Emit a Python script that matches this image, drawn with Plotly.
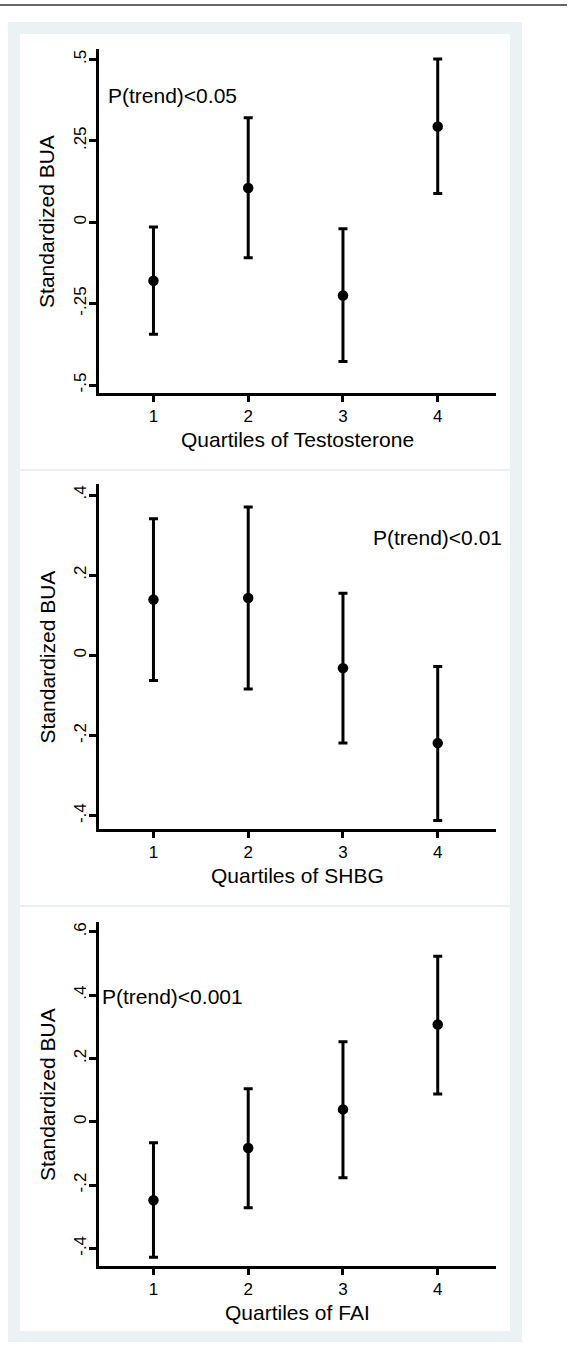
import plotly.graph_objects as go

W, H = 571, 1347

quartiles = [1, 2, 3, 4]
x_tick_labels = ["1", "2", "3", "4"]

# Panel 1: Testosterone
t_mean = [-0.180, 0.105, -0.225, 0.294]
t_low = [-0.344, -0.109, -0.428, 0.088]
t_high = [-0.015, 0.321, -0.020, 0.501]
t_ticks = [-0.5, -0.25, 0, 0.25, 0.5]
t_ticktext = ["-.5", "-.25", "0", ".25", ".5"]

# Panel 2: SHBG
s_mean = [0.139, 0.143, -0.032, -0.219]
s_low = [-0.063, -0.084, -0.219, -0.412]
s_high = [0.341, 0.370, 0.155, -0.028]
s_ticks = [-0.4, -0.2, 0, 0.2, 0.4]
s_ticktext = ["-.4", "-.2", "0", ".2", ".4"]

# Panel 3: FAI
f_mean = [-0.248, -0.083, 0.039, 0.307]
f_low = [-0.428, -0.272, -0.177, 0.088]
f_high = [-0.066, 0.104, 0.253, 0.523]
f_ticks = [-0.4, -0.2, 0, 0.2, 0.4, 0.6]
f_ticktext = ["-.4", "-.2", "0", ".2", ".4", ".6"]

x_titles = ["Quartiles of Testosterone", "Quartiles of SHBG", "Quartiles of FAI"]
y_title = "Standardized BUA"
p_texts = ["P(trend)<0.05", "P(trend)<0.01", "P(trend)<0.001"]

FONT = "Liberation Sans, Arial, sans-serif"


def px(x):
    return x / W


def py(y):
    return 1 - y / H


panels = [
    dict(mean=t_mean, low=t_low, high=t_high, ticks=t_ticks, ticktext=t_ticktext,
         yrange=[-0.523, 0.531], top=49.3, bottom=392.5,
         ann=dict(x=0.50, y=0.39, xanchor="left")),
    dict(mean=s_mean, low=s_low, high=s_high, ticks=s_ticks, ticktext=s_ticktext,
         yrange=[-0.432, 0.4267], top=484.3, bottom=828.5,
         ann=dict(x=4.0, y=0.295, xanchor="center")),
    dict(mean=f_mean, low=f_low, high=f_high, ticks=f_ticks, ticktext=f_ticktext,
         yrange=[-0.455, 0.630], top=922.3, bottom=1265.8,
         ann=dict(x=0.44, y=0.396, xanchor="left")),
]

X_LEFT, X_RIGHT = 98.5, 496
XRANGE = [0.42, 4.615]

fig = go.Figure()
layout = dict(
    width=W, height=H,
    margin=dict(l=0, r=0, t=0, b=0),
    paper_bgcolor="white",
    plot_bgcolor="rgba(0,0,0,0)",
    showlegend=False,
    font=dict(family=FONT, color="black"),
)

shapes = [
    # page line at top
    dict(type="line", xref="paper", yref="paper", x0=0, x1=px(567), y0=py(5), y1=py(5),
         line=dict(color="#333333", width=1.5), layer="below"),
    # outer graph region
    dict(type="rect", xref="paper", yref="paper", x0=px(8), x1=px(522), y0=py(1342), y1=py(22),
         fillcolor="#eaf2f3", line=dict(width=0), layer="below"),
    # inner white region
    dict(type="rect", xref="paper", yref="paper", x0=px(20), x1=px(510), y0=py(1331), y1=py(34),
         fillcolor="white", line=dict(width=0), layer="below"),
]
for sep in (470, 906):
    shapes.append(dict(type="line", xref="paper", yref="paper", x0=px(20), x1=px(510),
                       y0=py(sep), y1=py(sep), line=dict(color="#e3ebed", width=1.5), layer="below"))

annotations = []
for i, p in enumerate(panels):
    n = "" if i == 0 else str(i + 1)
    xa, ya = "x" + n, "y" + n
    err_plus = [h - m for h, m in zip(p["high"], p["mean"])]
    err_minus = [m - l for m, l in zip(p["mean"], p["low"])]
    fig.add_trace(go.Scatter(
        x=quartiles, y=p["mean"], mode="markers", xaxis=xa, yaxis=ya,
        marker=dict(color="black", size=10.5, symbol="circle"),
        error_y=dict(type="data", symmetric=False, array=err_plus, arrayminus=err_minus,
                     color="black", thickness=3, width=4.5),
        cliponaxis=False, hoverinfo="skip",
    ))
    layout["xaxis" + n] = dict(
        domain=[px(X_LEFT), px(X_RIGHT)], range=XRANGE, anchor=ya,
        tickvals=quartiles, ticktext=x_tick_labels,
        showline=True, linecolor="black", linewidth=3,
        ticks="outside", ticklen=6, tickwidth=2.5, tickcolor="black",
        showgrid=False, zeroline=False, fixedrange=True,
        tickfont=dict(size=17, family=FONT, color="black"),
    )
    layout["yaxis" + n] = dict(
        domain=[py(p["bottom"]), py(p["top"])], range=p["yrange"], anchor=xa,
        tickvals=p["ticks"], ticktext=p["ticktext"], tickangle=-90,
        showline=True, linecolor="black", linewidth=3,
        ticks="outside", ticklen=7, tickwidth=2.5, tickcolor="black",
        ticklabelstandoff=-4,
        showgrid=False, zeroline=False, fixedrange=True,
        tickfont=dict(size=17, family=FONT, color="black"),
    )
    # axis titles
    annotations.append(dict(
        text=x_titles[i], xref="paper", yref="paper",
        x=px((X_LEFT + X_RIGHT) / 2), y=py(p["bottom"] + 1.5 + 45.5),
        xanchor="center", yanchor="middle", showarrow=False,
        font=dict(size=21, family=FONT, color="black"),
    ))
    annotations.append(dict(
        text=y_title, xref="paper", yref="paper",
        x=px(47), y=py((p["top"] + p["bottom"]) / 2), textangle=-90,
        xanchor="center", yanchor="middle", showarrow=False,
        font=dict(size=21, family=FONT, color="black"),
    ))
    a = p["ann"]
    annotations.append(dict(
        text=p_texts[i], xref=xa, yref=ya, x=a["x"], y=a["y"],
        xanchor=a["xanchor"], yanchor="middle", showarrow=False,
        font=dict(size=21, family=FONT, color="black"),
    ))

layout["shapes"] = shapes
layout["annotations"] = annotations
fig.update_layout(**layout)
fig.write_html("out.html",
               config={"displayModeBar": False},
               post_script="document.body.style.margin='0';document.body.style.overflow='hidden';")
